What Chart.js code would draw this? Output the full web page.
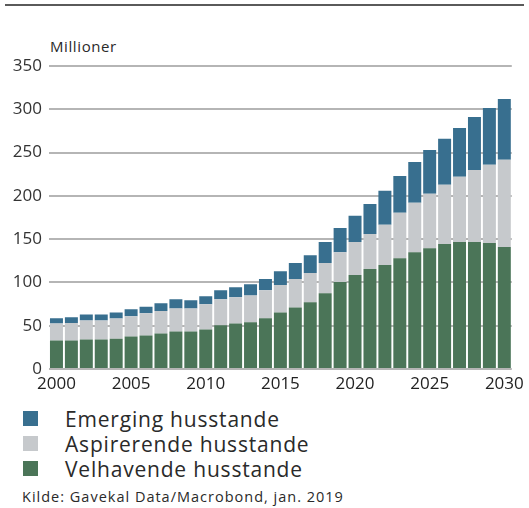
<!DOCTYPE html>
<html>
<head>
<meta charset="utf-8">
<script src="https://cdn.jsdelivr.net/npm/chart.js@4.4.1/dist/chart.umd.min.js"></script>
<style>
    body { margin: 0; background: #fff; font-family: "Open Sans", sans-serif; color: #2a2a2a; }
    #wrap { position: relative; width: 529px; height: 508px; overflow: hidden; }
    #rule { position: absolute; left: 5px; top: 4px; width: 519px; height: 2px; background: #5a5a5a; }
    #unit { position: absolute; left: 50px; top: 36px; font-size: 15px; letter-spacing: 0.6px; }
    #chartBox { position: absolute; left: 0; top: 30px; width: 529px; height: 370px; }
    #legend { position: absolute; left: 23px; top: 406px; }
    .item { height: 25px; display: flex; align-items: center; font-size: 21px; letter-spacing: 0.8px; }
    .sw { width: 15px; height: 15px; margin-right: 27px; }
    #source { position: absolute; left: 22px; top: 487px; font-size: 14.5px; letter-spacing: 1px; }
</style>
</head>
<body>
<div id="wrap">
    <div id="rule"></div>
    <div id="unit">Millioner</div>
    <div id="chartBox"><canvas id="barChart"></canvas></div>
    <div id="legend"></div>
    <div id="source">Kilde: Gavekal Data/Macrobond, jan. 2019</div>
</div>
<script>
    // Years on the x axis
    const years = [];
    for (let y = 2000; y <= 2030; y++) years.push(String(y));

    // Values (millions of households)
    const velhavende = [33, 33, 34, 34, 35, 37.5, 38.7, 41, 43.4, 43.4,
        45.7, 50.4, 52.7, 53.9, 58.5, 65.4, 71, 77, 87.6, 100.4,
        108.5, 115.5, 120, 128, 135, 139.6, 144.5, 146.8, 146.8, 145.6, 141];
    const aspirerende = [19.7, 20, 22, 22, 23.3, 23.5, 25.8, 26, 26.6, 26.6,
        29, 30.1, 30.1, 31.1, 32.5, 31.6, 33, 34, 34.9, 34.6,
        38.3, 40.5, 46.5, 52.4, 57, 62.8, 68.2, 75.2, 83.2, 90.4, 100.7];
    const emerging = [5.8, 6.7, 7, 7, 7, 8, 7.5, 9, 10.5, 9.3,
        9.3, 10.5, 11.7, 13, 13, 16, 18.5, 20.5, 24.3, 28,
        30.2, 34.6, 39.5, 42.6, 47, 50.6, 53.3, 56.5, 61, 65.5, 70.3];

    const seriesNames = ['Velhavende husstande', 'Aspirerende husstande', 'Emerging husstande'];
    const seriesColors = ['#4b7558', '#c6c9cc', '#386f8f'];
    const yTicks = [0, 50, 100, 150, 200, 250, 300, 350];

    const ctx = document.getElementById('barChart').getContext('2d');
    new Chart(ctx, {
        type: 'bar',
        data: {
            labels: years,
            datasets: [velhavende, aspirerende, emerging].map((vals, i) => ({
                label: seriesNames[i],
                data: vals,
                backgroundColor: seriesColors[i],
                borderWidth: 0,
                barPercentage: 0.87,
                categoryPercentage: 1
            }))
        },
        options: {
            responsive: true,
            maintainAspectRatio: false,
            animation: false,
            layout: { padding: { top: 36, right: 15, left: 1, bottom: 0 } },
            plugins: { legend: { display: false }, tooltip: { enabled: false } },
            scales: {
                x: {
                    stacked: true,
                    grid: { display: false, drawTicks: false },
                    border: { display: false },
                    afterFit: (scale) => { scale.height = 31; },
                    ticks: {
                        maxRotation: 0,
                        autoSkip: false,
                        padding: 5,
                        color: '#222',
                        font: { family: 'Open Sans', size: 17 },
                        callback: function (val) {
                            const lab = this.getLabelForValue(val);
                            return Number(lab) % 5 === 0 ? lab : '';
                        }
                    }
                },
                y: {
                    stacked: true,
                    min: 0,
                    max: 350,
                    afterFit: (scale) => { scale.width = 48; },
                    afterBuildTicks: (scale) => { scale.ticks = yTicks.map(v => ({ value: v })); },
                    grid: { color: '#b5b5b5', lineWidth: 2, drawTicks: false },
                    border: { display: false },
                    ticks: {
                        padding: 7,
                        color: '#333',
                        font: { family: 'Open Sans', size: 17 }
                    }
                }
            }
        }
    });

    // Legend, top to bottom as in the reference
    const legend = document.getElementById('legend');
    [2, 1, 0].forEach(i => {
        const row = document.createElement('div');
        row.className = 'item';
        row.innerHTML = '<span class="sw" style="background:' + seriesColors[i] + '"></span>' + seriesNames[i];
        legend.appendChild(row);
    });
</script>
</body>
</html>
